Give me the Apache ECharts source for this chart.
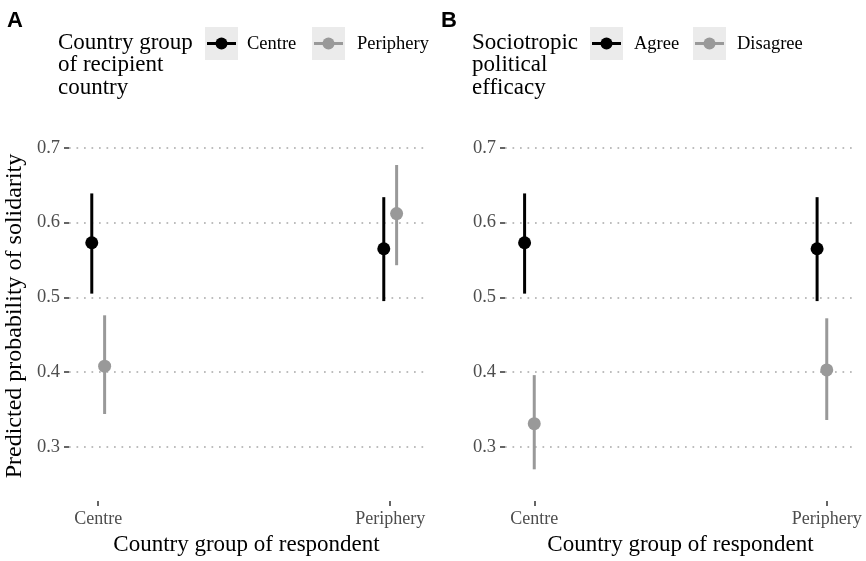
<!DOCTYPE html>
<html><head><meta charset="utf-8">
<script src="https://cdn.jsdelivr.net/npm/echarts@6/dist/echarts.min.js"></script>
<style>html,body{margin:0;padding:0;background:#fff}#c{width:866px;height:561px}</style>
</head><body><div id="c"></div>
<script>
// ---------- data ----------
const categories = ['Centre', 'Periphery'];
const yTicks = [0.3, 0.4, 0.5, 0.6, 0.7];
const xTitle = 'Country group of respondent';
const yTitle = 'Predicted probability of solidarity';

// Panel A: Country group of recipient country
const titleA = 'Country group\nof recipient\ncountry';
const groupsA = ['Centre', 'Periphery'];
const estA_Centre = [0.573, 0.565];
const loA_Centre  = [0.505, 0.495];
const hiA_Centre  = [0.639, 0.634];
const estA_Periphery = [0.408, 0.612];
const loA_Periphery  = [0.344, 0.543];
const hiA_Periphery  = [0.476, 0.677];

// Panel B: Sociotropic political efficacy
const titleB = 'Sociotropic\npolitical\nefficacy';
const groupsB = ['Agree', 'Disagree'];
const estB_Agree = [0.573, 0.565];
const loB_Agree  = [0.505, 0.495];
const hiB_Agree  = [0.639, 0.634];
const estB_Disagree = [0.331, 0.403];
const loB_Disagree  = [0.270, 0.336];
const hiB_Disagree  = [0.396, 0.472];

// ---------- styling ----------
const SERIF = '"Liberation Serif","Times New Roman",serif';
const BLACK = '#000000', GREY = '#999999';
const dodgeA = [-0.022, 0.022];
const dodgeB = [-0.033, 0.0];

function rows(est, lo, hi, off) {
  return est.map((v, i) => [i + 1 + off, v, lo[i], hi[i]]);
}
function renderItem(params, api) {
  const x = api.value(0);
  const pE = api.coord([x, api.value(1)]);
  const pL = api.coord([x, api.value(2)]);
  const pH = api.coord([x, api.value(3)]);
  const color = api.visual('color');
  return { type: 'group', children: [
    { type: 'line', shape: { x1: pL[0], y1: pL[1], x2: pH[0], y2: pH[1] }, style: { stroke: color, lineWidth: 3 } },
    { type: 'circle', shape: { cx: pE[0], cy: pE[1], r: 6.5 }, style: { fill: color } }
  ]};
}
function series(name, idx, data, color) {
  return { type: 'custom', name, xAxisIndex: idx, yAxisIndex: idx, renderItem,
    itemStyle: { color }, encode: { x: 0, y: [1, 2, 3] }, data, animation: false, silent: true };
}
function xAxis(idx, max) {
  return { type: 'value', gridIndex: idx, min: 0.9, max,
    name: xTitle, nameLocation: 'middle', nameGap: 31,
    nameTextStyle: { fontFamily: SERIF, fontSize: 23, color: '#000' },
    axisLine: { show: false },
    axisTick: { show: true, customValues: [1, 2], length: 5, lineStyle: { color: '#333', width: 1.5 } },
    axisLabel: { customValues: [1, 2], formatter: v => categories[Math.round(v) - 1], margin: 9,
      fontFamily: SERIF, fontSize: 18, color: '#4d4d4d' },
    splitLine: { show: false } };
}
function yAxis(idx, withName) {
  return { type: 'value', gridIndex: idx, min: 0.2275, max: 0.7225,
    name: withName ? yTitle : '', nameLocation: 'middle', nameGap: 42,
    nameTextStyle: { fontFamily: SERIF, fontSize: 24, color: '#000' },
    axisLine: { show: false },
    axisTick: { show: true, customValues: yTicks, length: 5, lineStyle: { color: '#333', width: 1.5 } },
    axisLabel: { customValues: yTicks, formatter: v => v.toFixed(1), margin: 9,
      fontFamily: SERIF, fontSize: 18.5, color: '#4d4d4d' },
    splitLine: { show: true, lineStyle: { color: '#a8a8a8', width: 1.7, type: [1.7, 5.8] } } };
}

function legendGraphics(letter, lx, title, tx, names, keyXs, labelXs) {
  const g = [];
  g.push({ type: 'text', left: lx, top: 10, style: { text: letter, fontFamily: '"Liberation Sans",Arial,sans-serif',
    fontWeight: 'bold', fontSize: 22, fill: '#000' } });
  g.push({ type: 'text', left: tx, top: 31, style: { text: title, fontFamily: SERIF, fontSize: 23,
    lineHeight: 22.5, fill: '#000' } });
  const cols = [BLACK, GREY];
  names.forEach((n, i) => {
    const kx = keyXs[i];
    g.push({ type: 'rect', shape: { x: kx, y: 27, width: 33, height: 33 }, style: { fill: '#ebebeb' } });
    g.push({ type: 'line', shape: { x1: kx + 2, y1: 43.5, x2: kx + 31, y2: 43.5 }, style: { stroke: cols[i], lineWidth: 3 } });
    g.push({ type: 'circle', shape: { cx: kx + 16.5, cy: 43.5, r: 6 }, style: { fill: cols[i] } });
    g.push({ type: 'text', x: labelXs[i], y: 44.5, style: { text: n, fontFamily: SERIF, fontSize: 18.5,
      fill: '#000', verticalAlign: 'middle', align: 'left' } });
  });
  return g;
}

const chart = echarts.init(document.getElementById('c'), null, { renderer: 'canvas' });
chart.setOption({
  backgroundColor: '#fff',
  animation: false,
  grid: [
    { left: 69, width: 355, top: 131, bottom: 58 },
    { left: 505, width: 351, top: 131, bottom: 58 }
  ],
  xAxis: [xAxis(0, 0.9 + 355 / 292), xAxis(1, 2.1)],
  yAxis: [yAxis(0, true), yAxis(1, false)],
  series: [
    series(groupsA[0], 0, rows(estA_Centre, loA_Centre, hiA_Centre, dodgeA[0]), BLACK),
    series(groupsA[1], 0, rows(estA_Periphery, loA_Periphery, hiA_Periphery, dodgeA[1]), GREY),
    series(groupsB[0], 1, rows(estB_Agree, loB_Agree, hiB_Agree, dodgeB[0]), BLACK),
    series(groupsB[1], 1, rows(estB_Disagree, loB_Disagree, hiB_Disagree, dodgeB[1]), GREY)
  ],
  graphic: [].concat(
    legendGraphics('A', 7, titleA, 58, groupsA, [205, 312], [247, 357]),
    legendGraphics('B', 441, titleB, 472, groupsB, [590, 693], [634, 737])
  )
});
</script>
</body></html>
